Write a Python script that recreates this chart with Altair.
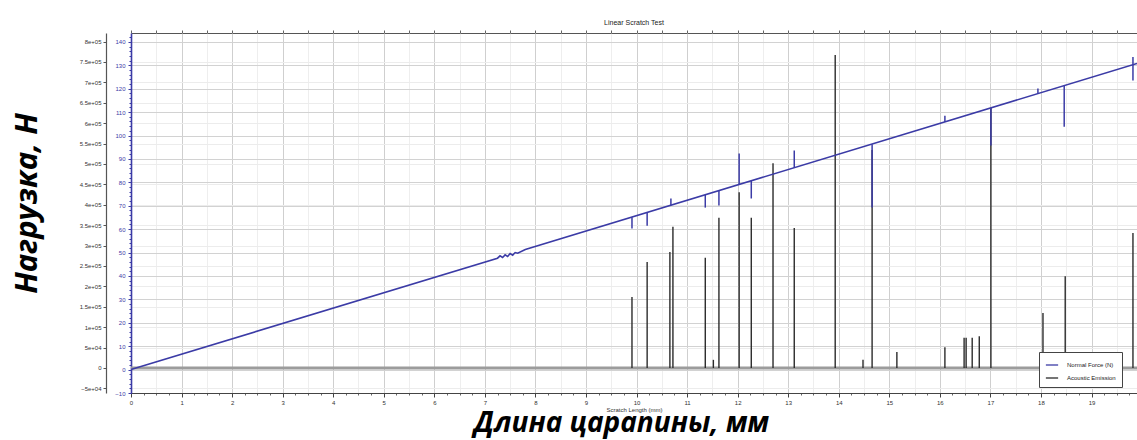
import altair as alt
import pandas as pd

# ---------------- data ----------------
# Normal force (N) trace: straight ramp with a short noisy stretch
nf_x = [0.0, 7.25, 7.30, 7.35, 7.40, 7.45, 7.50, 7.55, 7.60, 7.65, 7.80, 19.9]
nf_y = [0.0, 47.6, 48.6, 47.9, 49.0, 48.3, 49.6, 48.9, 50.0, 49.7, 51.3, 130.8]

# Normal force excursions: position, value on the ramp, value at the tip
nf_spike_x = [9.91, 10.21, 10.68, 11.36, 11.63, 12.03, 12.27, 13.12, 14.66, 16.10, 17.01, 17.94, 18.46, 19.82, 19.82]
nf_spike_base = [65.1, 67.1, 70.2, 74.6, 76.4, 79.0, 80.6, 86.2, 96.3, 105.8, 111.8, 117.8, 121.3, 130.2, 130.2]
nf_spike_tip = [60.3, 61.5, 73.1, 69.2, 70.1, 92.3, 73.1, 93.6, 69.2, 108.5, 95.7, 120.1, 103.8, 133.5, 123.5]

# Acoustic emission bursts: position and peak
ae_x = [9.91, 10.21, 10.66, 10.72, 11.36, 11.52, 11.63, 12.03, 12.27, 12.70, 13.12, 13.93,
        14.48, 14.66, 15.15, 16.10, 16.48, 16.52, 16.64, 16.78, 17.01, 18.04, 18.48, 19.82]
ae_y = [174000, 260000, 284000, 346000, 270000, 20000, 368000, 431000, 368000, 502000, 343000, 767000,
        20000, 534000, 39000, 51000, 74000, 74000, 74000, 78000, 637000, 135000, 225000, 331000]

# tick values
x_ticks = list(range(0, 20))
x_minor = [i * 0.25 for i in range(0, 80)]
x_half = [i * 0.5 for i in range(0, 40)]
n_ticks = list(range(-10, 150, 10))
n_minor = list(range(-10, 144, 2))
ae_ticks = list(range(-50000, 850000, 50000))

NF = "Normal Force (N)"
AE = "Acoustic Emission"
BLUE = "#3b3ba6"
DARK = "#2b2b2b"

nf_df = pd.DataFrame({"x": nf_x, "n": nf_y, "series": NF})
nf_spk = pd.DataFrame({"x": nf_spike_x, "n": nf_spike_base, "tip": nf_spike_tip, "series": NF})
ae_df = pd.DataFrame({"x": ae_x, "v": ae_y, "series": AE})
ae_df["zero"] = 0

x_scale = alt.Scale(domain=[0, 19.9], nice=False, zero=False)
n_scale = alt.Scale(domain=[-10, 143.8], nice=False, zero=False)
ae_scale = alt.Scale(domain=[-61300, 821000], nice=False, zero=False)
color_scale = alt.Scale(domain=[NF, AE], range=[BLUE, DARK])

LAB = "Liberation Sans"
RU = "Open Sans"

color_enc = alt.Color(
    "series:N",
    scale=color_scale,
    legend=alt.Legend(
        orient="none", legendX=908, legendY=319, title=None,
        labelFont=LAB, labelFontSize=6, labelColor="#222",
        symbolType="stroke", symbolSize=150, symbolStrokeWidth=1.3,
        strokeColor="#444", fillColor="white", padding=6, rowPadding=3,
        direction="vertical", labelOffset=8,
    ),
)

# ---------------- layer A: normal force ----------------
xA_axis = alt.Axis(
    orient="bottom", values=x_ticks, title="Scratch Length (mm)", grid=True,
    gridColor="#cfcfcf", labelFont=LAB, labelFontSize=6, labelColor="#333",
    titleFont=LAB, titleFontSize=6, titleFontWeight="normal", titleColor="#333",
    tickSize=4, tickColor="#444", domainColor="#444", labelPadding=2, titlePadding=1,
    labelFlush=False, labelOverlap=False,
)
yA_axis = alt.Axis(
    orient="left", values=n_ticks, grid=True, gridColor="#d2d2d2",
    domainColor=BLUE, domainWidth=1.6, tickColor=BLUE, tickSize=3,
    labelColor=BLUE, labelFont=LAB, labelFontSize=6, labelPadding=3,
    labelOverlap=False,
    title="Нагрузка, Н", titleFont=RU, titleFontSize=31, titleFontWeight="bold",
    titleFontStyle="italic", titleColor="black", titleAngle=270,
    titleX=-104, titleY=170, titleAlign="center", titleBaseline="middle",
)

nf_line = alt.Chart(nf_df).mark_line(strokeWidth=1.6).encode(
    x=alt.X("x:Q", scale=x_scale, axis=xA_axis),
    y=alt.Y("n:Q", scale=n_scale, axis=yA_axis),
    color=color_enc,
)
nf_rules = alt.Chart(nf_spk).mark_rule(strokeWidth=1.5).encode(
    x=alt.X("x:Q", scale=x_scale, axis=xA_axis),
    y=alt.Y("n:Q", scale=n_scale, axis=yA_axis),
    y2="tip:Q",
    color=color_enc,
)
layerA = alt.layer(nf_line, nf_rules)

# ---------------- layer B: acoustic emission ----------------
xB_axis = alt.Axis(
    orient="bottom", values=x_minor, labels=False, domain=False, grid=False,
    tickSize=2, tickColor="#666",
    title="Длина царапины, мм", titleFont=RU, titleFontSize=28, titleFontWeight="bold",
    titleFontStyle="italic", titleColor="black", titleX=490, titleY=38,
    titleAlign="center", titleBaseline="alphabetic",
)
yB_axis = alt.Axis(
    orient="left", offset=25, values=ae_ticks, grid=True, gridColor="#ececec",
    labelExpr="datum.value == 0 ? '0' : replace(format(datum.value, '.2~e'), 'e+', 'e+0')",
    labelFont=LAB, labelFontSize=6, labelColor="#333", labelPadding=2,
    labelOverlap=False,
    tickSize=3, tickColor="#555", domainColor="#555", domainWidth=1.2, title=None,
)
ae_base = alt.Chart(ae_df.head(1)).mark_rule(color="#9c9c9c", strokeWidth=3).encode(
    y=alt.Y("zero:Q", scale=ae_scale, axis=yB_axis)
)
ae_rules = alt.Chart(ae_df).mark_rule(strokeWidth=1.4).encode(
    x=alt.X("x:Q", scale=x_scale, axis=xB_axis),
    y=alt.Y("zero:Q", scale=ae_scale, axis=yB_axis),
    y2="v:Q",
    color=color_enc,
)
layerB = alt.layer(ae_base, ae_rules)

# ---------------- layer C: frame ticks / minor grid ----------------
xC = alt.X(
    "x:Q", scale=x_scale,
    axis=alt.Axis(
        orient="top", values=x_half, labels=False, domain=False, grid=True,
        gridColor="#eeeeee", tickSize=3, tickColor="#666", title=None,
    ),
)
yC = alt.Y(
    "n:Q", scale=n_scale,
    axis=alt.Axis(
        orient="left", values=n_minor, labels=False, domain=False, grid=False,
        tickSize=2, tickColor=BLUE, title=None,
    ),
)
layerC = alt.Chart(nf_df).mark_point(opacity=0).encode(x=xC, y=yC)

chart = (
    alt.layer(layerC, layerB, layerA)
    .resolve_scale(y="independent")
    .resolve_axis(x="independent", y="independent")
    .properties(
        width=1006,
        height=360,
        padding={"left": 131, "top": 33, "right": 0, "bottom": 47},
        autosize=alt.AutoSizeParams(type="none"),
        title=alt.TitleParams(
            "Linear Scratch Test", font=LAB, fontSize=7, fontWeight="normal",
            color="#222", anchor="middle", offset=4,
        ),
        background="white",
    )
    .configure_view(stroke="#555", strokeWidth=1)
)

chart.save("out.html", embed_options={"renderer": "svg", "actions": False})
